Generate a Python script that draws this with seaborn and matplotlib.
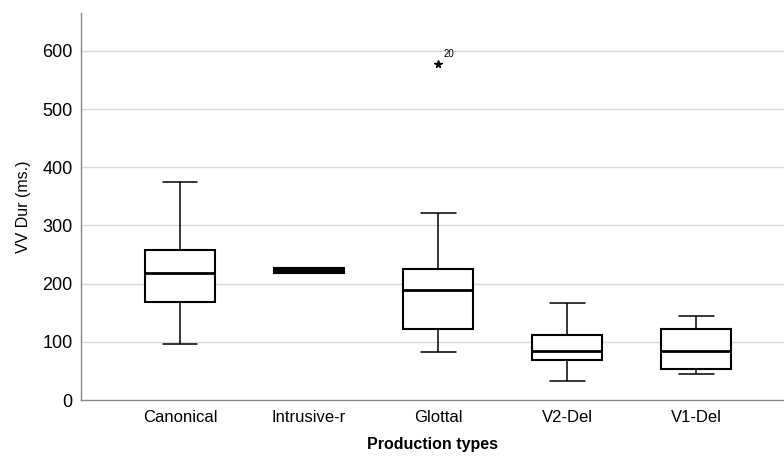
import numpy as np
import pandas as pd
import matplotlib
matplotlib.use('Agg')
import matplotlib.pyplot as plt
import seaborn as sns

# ─── Data (five-number summaries) ──────────────────────────
categories = ['Canonical', 'Intrusive-r', 'Glottal', 'V2-Del', 'V1-Del']
canonical   = [96, 168, 218, 258, 375]
intrusive_r = [218, 219, 222, 227, 227]
glottal     = [82, 122, 189, 225, 322]
v2_del      = [33, 68, 85, 112, 167]
v1_del      = [45, 54, 84, 122, 144]
outlier_cat = 'Glottal'
outlier_val = 578
outlier_lbl = '20'
yticks = [0, 100, 200, 300, 400, 500, 600]

rows = []
for cat, vals in zip(categories, [canonical, intrusive_r, glottal, v2_del, v1_del]):
    rows += [(cat, v) for v in vals]
df = pd.DataFrame(rows, columns=['type', 'dur'])

# collapsed box of Intrusive-r is drawn solid, like SPSS does
fills = {c: 'white' for c in categories}
fills['Intrusive-r'] = 'black'

sns.set_style('white')
plt.rcParams['font.family'] = ['Liberation Sans', 'DejaVu Sans']
plt.rcParams['text.color'] = 'black'
plt.rcParams['axes.labelcolor'] = 'black'
plt.rcParams['xtick.color'] = 'black'
plt.rcParams['ytick.color'] = 'black'

fig = plt.figure(figsize=(7.84, 4.63), dpi=100)
ax = fig.add_axes([0.1033, 0.136, 0.8967, 0.836])

for y in yticks[1:]:
    ax.axhline(y, color='#d9d9d9', lw=1.0, zorder=0)

sns.boxplot(data=df, x='type', y='dur', order=categories, hue='type',
            palette=fills, legend=False, width=0.54, saturation=1,
            linecolor='black', linewidth=1.5, whis=1.5,
            showfliers=False,
            medianprops={'linewidth': 2.0},
            whiskerprops={'linewidth': 1.1},
            capprops={'linewidth': 1.1},
            ax=ax)

xo = categories.index(outlier_cat)
ax.plot([xo], [outlier_val], marker='*', color='black', markersize=5.5, ls='none')
ax.text(xo + 0.04, outlier_val + 8, outlier_lbl, fontsize=7, va='bottom', ha='left')

ax.set_xlim(-0.767, 4.68)
ax.set_ylim(0, 665)
ax.set_yticks(yticks)
ax.tick_params(axis='y', labelsize=13, length=0, pad=6)
ax.tick_params(axis='x', labelsize=12, length=0, pad=7)
ax.set_xlabel('Production types', fontsize=11.5, fontweight='bold', labelpad=9)
ax.set_ylabel('VV Dur (ms.)', fontsize=11.5, labelpad=8)

for s in ['top', 'right']:
    ax.spines[s].set_visible(False)
for s in ['left', 'bottom']:
    ax.spines[s].set_color('#888888')
    ax.spines[s].set_linewidth(1.0)

plt.savefig('out.png', dpi=100)
